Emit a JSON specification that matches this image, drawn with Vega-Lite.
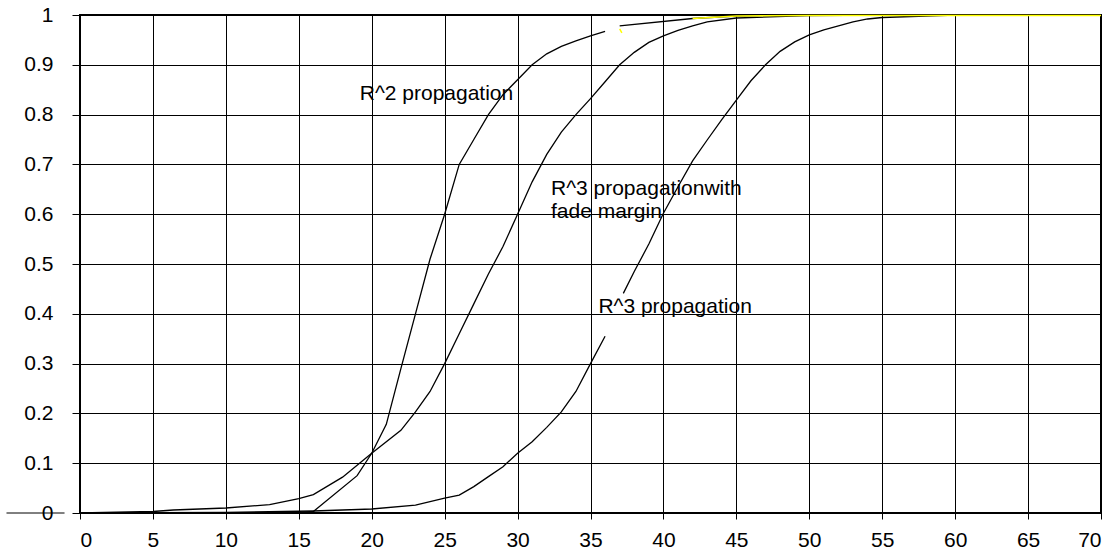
{
  "$schema": "https://vega.github.io/schema/vega-lite/v6.json",
  "width": 1021,
  "height": 498,
  "autosize": "none",
  "padding": {"left": 80, "top": 15, "right": 12, "bottom": 41},
  "background": "white",
  "config": {
    "font": "Liberation Sans",
    "view": {"stroke": "#000000", "strokeWidth": 2},
    "axis": {
      "grid": true,
      "gridColor": "#000000",
      "gridWidth": 1,
      "gridOpacity": 1,
      "domain": false,
      "tickColor": "#000000",
      "tickWidth": 1,
      "labelColor": "#000000",
      "labelFont": "Liberation Sans",
      "labelFontSize": 21,
      "title": null
    },
    "axisX": {"tickSize": 6, "labelPadding": 10},
    "axisY": {"tickSize": 8, "labelPadding": 19}
  },
  "datasets": {
    "curves": [
      {"curve": "R^2 propagation", "seg": "r2a", "x": 0, "y": 0},
      {"curve": "R^2 propagation", "seg": "r2a", "x": 10, "y": 0},
      {"curve": "R^2 propagation", "seg": "r2a", "x": 15, "y": 0.001},
      {"curve": "R^2 propagation", "seg": "r2a", "x": 16, "y": 0.003},
      {"curve": "R^2 propagation", "seg": "r2a", "x": 19, "y": 0.075},
      {"curve": "R^2 propagation", "seg": "r2a", "x": 20, "y": 0.12},
      {"curve": "R^2 propagation", "seg": "r2a", "x": 21, "y": 0.178},
      {"curve": "R^2 propagation", "seg": "r2a", "x": 22, "y": 0.29},
      {"curve": "R^2 propagation", "seg": "r2a", "x": 23, "y": 0.4},
      {"curve": "R^2 propagation", "seg": "r2a", "x": 24, "y": 0.51},
      {"curve": "R^2 propagation", "seg": "r2a", "x": 25, "y": 0.6},
      {"curve": "R^2 propagation", "seg": "r2a", "x": 26, "y": 0.7},
      {"curve": "R^2 propagation", "seg": "r2a", "x": 27, "y": 0.75},
      {"curve": "R^2 propagation", "seg": "r2a", "x": 28, "y": 0.8},
      {"curve": "R^2 propagation", "seg": "r2a", "x": 29, "y": 0.84},
      {"curve": "R^2 propagation", "seg": "r2a", "x": 30, "y": 0.87},
      {"curve": "R^2 propagation", "seg": "r2a", "x": 31, "y": 0.9},
      {"curve": "R^2 propagation", "seg": "r2a", "x": 32, "y": 0.922},
      {"curve": "R^2 propagation", "seg": "r2a", "x": 33, "y": 0.937},
      {"curve": "R^2 propagation", "seg": "r2a", "x": 34, "y": 0.948},
      {"curve": "R^2 propagation", "seg": "r2a", "x": 35, "y": 0.958},
      {"curve": "R^2 propagation", "seg": "r2a", "x": 36, "y": 0.967},
      {"curve": "R^2 propagation", "seg": "r2b", "x": 37, "y": 0.978},
      {"curve": "R^2 propagation", "seg": "r2b", "x": 42, "y": 0.993},
      {"curve": "R^2 propagation", "seg": "r2b", "x": 45, "y": 0.998},
      {"curve": "R^2 propagation", "seg": "r2b", "x": 50, "y": 1},
      {"curve": "R^2 propagation", "seg": "r2b", "x": 70, "y": 1},
      {"curve": "R^3 propagation with fade margin", "seg": "r3f", "x": 0, "y": 0},
      {"curve": "R^3 propagation with fade margin", "seg": "r3f", "x": 5, "y": 0.003},
      {"curve": "R^3 propagation with fade margin", "seg": "r3f", "x": 6.4, "y": 0.006},
      {"curve": "R^3 propagation with fade margin", "seg": "r3f", "x": 10, "y": 0.01},
      {"curve": "R^3 propagation with fade margin", "seg": "r3f", "x": 13, "y": 0.017},
      {"curve": "R^3 propagation with fade margin", "seg": "r3f", "x": 15, "y": 0.029},
      {"curve": "R^3 propagation with fade margin", "seg": "r3f", "x": 16, "y": 0.037},
      {"curve": "R^3 propagation with fade margin", "seg": "r3f", "x": 18, "y": 0.072},
      {"curve": "R^3 propagation with fade margin", "seg": "r3f", "x": 20, "y": 0.12},
      {"curve": "R^3 propagation with fade margin", "seg": "r3f", "x": 22, "y": 0.166},
      {"curve": "R^3 propagation with fade margin", "seg": "r3f", "x": 23, "y": 0.203},
      {"curve": "R^3 propagation with fade margin", "seg": "r3f", "x": 24, "y": 0.244},
      {"curve": "R^3 propagation with fade margin", "seg": "r3f", "x": 25, "y": 0.3},
      {"curve": "R^3 propagation with fade margin", "seg": "r3f", "x": 26, "y": 0.36},
      {"curve": "R^3 propagation with fade margin", "seg": "r3f", "x": 27, "y": 0.42},
      {"curve": "R^3 propagation with fade margin", "seg": "r3f", "x": 28, "y": 0.48},
      {"curve": "R^3 propagation with fade margin", "seg": "r3f", "x": 29, "y": 0.535},
      {"curve": "R^3 propagation with fade margin", "seg": "r3f", "x": 30, "y": 0.6},
      {"curve": "R^3 propagation with fade margin", "seg": "r3f", "x": 31, "y": 0.665},
      {"curve": "R^3 propagation with fade margin", "seg": "r3f", "x": 32, "y": 0.72},
      {"curve": "R^3 propagation with fade margin", "seg": "r3f", "x": 33, "y": 0.765},
      {"curve": "R^3 propagation with fade margin", "seg": "r3f", "x": 34, "y": 0.8},
      {"curve": "R^3 propagation with fade margin", "seg": "r3f", "x": 35, "y": 0.832},
      {"curve": "R^3 propagation with fade margin", "seg": "r3f", "x": 36, "y": 0.866},
      {"curve": "R^3 propagation with fade margin", "seg": "r3f", "x": 37, "y": 0.9},
      {"curve": "R^3 propagation with fade margin", "seg": "r3f", "x": 38, "y": 0.925},
      {"curve": "R^3 propagation with fade margin", "seg": "r3f", "x": 39, "y": 0.945},
      {"curve": "R^3 propagation with fade margin", "seg": "r3f", "x": 40, "y": 0.958},
      {"curve": "R^3 propagation with fade margin", "seg": "r3f", "x": 41, "y": 0.969},
      {"curve": "R^3 propagation with fade margin", "seg": "r3f", "x": 42, "y": 0.978},
      {"curve": "R^3 propagation with fade margin", "seg": "r3f", "x": 43, "y": 0.986},
      {"curve": "R^3 propagation with fade margin", "seg": "r3f", "x": 45, "y": 0.994},
      {"curve": "R^3 propagation with fade margin", "seg": "r3f", "x": 50, "y": 0.999},
      {"curve": "R^3 propagation with fade margin", "seg": "r3f", "x": 55, "y": 1},
      {"curve": "R^3 propagation with fade margin", "seg": "r3f", "x": 70, "y": 1},
      {"curve": "R^3 propagation", "seg": "r3a", "x": 0, "y": 0},
      {"curve": "R^3 propagation", "seg": "r3a", "x": 10, "y": 0.001},
      {"curve": "R^3 propagation", "seg": "r3a", "x": 16, "y": 0.004},
      {"curve": "R^3 propagation", "seg": "r3a", "x": 20, "y": 0.008},
      {"curve": "R^3 propagation", "seg": "r3a", "x": 23, "y": 0.016},
      {"curve": "R^3 propagation", "seg": "r3a", "x": 25, "y": 0.03},
      {"curve": "R^3 propagation", "seg": "r3a", "x": 26, "y": 0.036},
      {"curve": "R^3 propagation", "seg": "r3a", "x": 27, "y": 0.053},
      {"curve": "R^3 propagation", "seg": "r3a", "x": 28, "y": 0.073},
      {"curve": "R^3 propagation", "seg": "r3a", "x": 29, "y": 0.093},
      {"curve": "R^3 propagation", "seg": "r3a", "x": 30, "y": 0.12},
      {"curve": "R^3 propagation", "seg": "r3a", "x": 31, "y": 0.143},
      {"curve": "R^3 propagation", "seg": "r3a", "x": 32, "y": 0.172},
      {"curve": "R^3 propagation", "seg": "r3a", "x": 33, "y": 0.203},
      {"curve": "R^3 propagation", "seg": "r3a", "x": 34, "y": 0.244},
      {"curve": "R^3 propagation", "seg": "r3a", "x": 35, "y": 0.3},
      {"curve": "R^3 propagation", "seg": "r3a", "x": 36, "y": 0.355},
      {"curve": "R^3 propagation", "seg": "r3b", "x": 37.25, "y": 0.441},
      {"curve": "R^3 propagation", "seg": "r3b", "x": 38, "y": 0.485},
      {"curve": "R^3 propagation", "seg": "r3b", "x": 39, "y": 0.54},
      {"curve": "R^3 propagation", "seg": "r3b", "x": 40, "y": 0.602},
      {"curve": "R^3 propagation", "seg": "r3b", "x": 41, "y": 0.655},
      {"curve": "R^3 propagation", "seg": "r3b", "x": 42, "y": 0.707},
      {"curve": "R^3 propagation", "seg": "r3b", "x": 43, "y": 0.749},
      {"curve": "R^3 propagation", "seg": "r3b", "x": 44, "y": 0.79},
      {"curve": "R^3 propagation", "seg": "r3b", "x": 45, "y": 0.829},
      {"curve": "R^3 propagation", "seg": "r3b", "x": 46, "y": 0.868},
      {"curve": "R^3 propagation", "seg": "r3b", "x": 47, "y": 0.9},
      {"curve": "R^3 propagation", "seg": "r3b", "x": 48, "y": 0.927},
      {"curve": "R^3 propagation", "seg": "r3b", "x": 49, "y": 0.946},
      {"curve": "R^3 propagation", "seg": "r3b", "x": 50, "y": 0.96},
      {"curve": "R^3 propagation", "seg": "r3b", "x": 51, "y": 0.97},
      {"curve": "R^3 propagation", "seg": "r3b", "x": 52, "y": 0.978},
      {"curve": "R^3 propagation", "seg": "r3b", "x": 53, "y": 0.986},
      {"curve": "R^3 propagation", "seg": "r3b", "x": 54, "y": 0.992},
      {"curve": "R^3 propagation", "seg": "r3b", "x": 55, "y": 0.995},
      {"curve": "R^3 propagation", "seg": "r3b", "x": 60, "y": 1},
      {"curve": "R^3 propagation", "seg": "r3b", "x": 70, "y": 1}
    ],
    "margin": [
      {"seg": "m1", "x": 37, "y": 0.972},
      {"seg": "m1", "x": 37.15, "y": 0.964},
      {"seg": "m2", "x": 42, "y": 0.993},
      {"seg": "m2", "x": 45, "y": 0.998},
      {"seg": "m2", "x": 50, "y": 0.999},
      {"seg": "m2", "x": 70, "y": 0.999}
    ],
    "labels": [
      {"x": 19.18, "y": 0.829, "label": "R^2 propagation"},
      {"x": 32.29, "y": 0.6386, "label": "R^3 propagationwith"},
      {"x": 32.29, "y": 0.5924, "label": "fade margin"},
      {"x": 35.54, "y": 0.402, "label": "R^3 propagation"}
    ],
    "zeroline": [
      {"x": -5.04, "x2": -1.06, "y": 0}
    ]
  },
  "encoding": {
    "x": {
      "field": "x",
      "type": "quantitative",
      "scale": {"domain": [0, 70], "nice": false, "zero": false},
      "axis": {"values": [0, 5, 10, 15, 20, 25, 30, 35, 40, 45, 50, 55, 60, 65, 70], "format": "d"}
    },
    "y": {
      "field": "y",
      "type": "quantitative",
      "scale": {"domain": [0, 1], "nice": false, "zero": false},
      "axis": {"values": [0, 0.1, 0.2, 0.3, 0.4, 0.5, 0.6, 0.7, 0.8, 0.9, 1], "format": ".1~f"}
    }
  },
  "layer": [
    {
      "data": {"name": "curves"},
      "mark": {"type": "line", "strokeWidth": 1.3, "interpolate": "linear"},
      "encoding": {
        "color": {
          "field": "curve",
          "type": "nominal",
          "scale": {"domain": ["R^2 propagation", "R^3 propagation with fade margin", "R^3 propagation"], "range": ["#000000", "#000000", "#000000"]},
          "legend": null
        },
        "detail": {"field": "seg", "type": "nominal"}
      }
    },
    {
      "data": {"name": "margin"},
      "mark": {"type": "line", "strokeWidth": 1.5, "color": "#ffff00"},
      "encoding": {
        "detail": {"field": "seg", "type": "nominal"}
      }
    },
    {
      "data": {"name": "labels"},
      "mark": {"type": "text", "align": "left", "baseline": "alphabetic", "fontSize": 21, "font": "Liberation Sans", "color": "#000000"},
      "encoding": {
        "text": {"field": "label", "type": "nominal"}
      }
    },
    {
      "data": {"name": "zeroline"},
      "mark": {"type": "rule", "color": "#000000", "strokeWidth": 1, "clip": false},
      "encoding": {
        "x2": {"field": "x2"}
      }
    }
  ]
}
